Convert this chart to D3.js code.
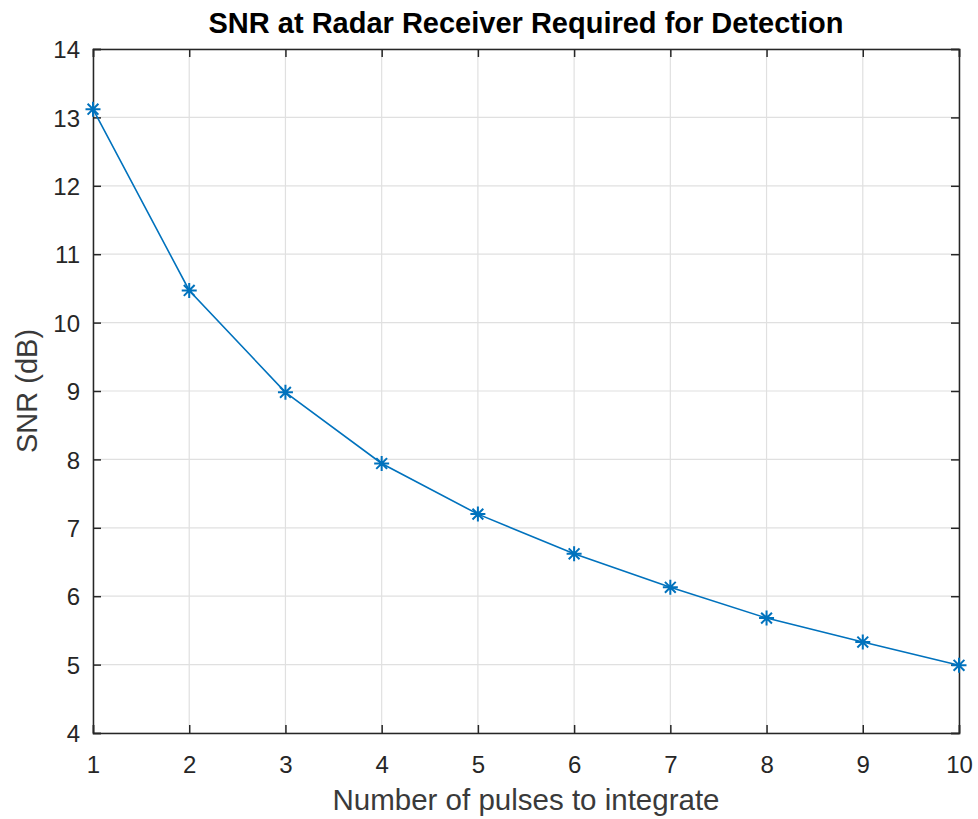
<!DOCTYPE html>
<html>
<head>
<meta charset="utf-8">
<script src="https://cdn.jsdelivr.net/npm/d3@7"></script>
<style>
  html, body { margin: 0; padding: 0; background: #fff; }
  svg { display: block; }
  text { font-family: "Liberation Sans", Arial, Helvetica, sans-serif; fill: #262626; }
</style>
</head>
<body>
<svg id="chart" width="978" height="819"></svg>
<script>
// ---- data ----
const pulses = [1, 2, 3, 4, 5, 6, 7, 8, 9, 10];
const snrDb = [13.12, 10.47, 8.98, 7.94, 7.20, 6.62, 6.13, 5.68, 5.33, 4.99];
const xTicks = [1, 2, 3, 4, 5, 6, 7, 8, 9, 10];
const yTicks = [4, 5, 6, 7, 8, 9, 10, 11, 12, 13, 14];
const titleText = "SNR at Radar Receiver Required for Detection";
const xLabelText = "Number of pulses to integrate";
const yLabelText = "SNR (dB)";

// ---- layout ----
const L = 93, R = 959, T = 49, B = 733;
const svg = d3.select("#chart");

const x = d3.scaleLinear().domain([1, 10]).range([L, R]);
const y = d3.scaleLinear().domain([4, 14]).range([B, T]);

// grid
const grid = svg.append("g");
grid.selectAll("line.gx").data(xTicks).join("line")
  .attr("x1", d => x(d)).attr("x2", d => x(d))
  .attr("y1", T).attr("y2", B)
  .attr("stroke", "#e0e0e0").attr("stroke-width", 1.2);
grid.selectAll("line.gy").data(yTicks).join("line")
  .attr("y1", d => y(d)).attr("y2", d => y(d))
  .attr("x1", L).attr("x2", R)
  .attr("stroke", "#e0e0e0").attr("stroke-width", 1.2);

// axes (MATLAB style: inward ticks on all sides)
const tickLen = 8;
const axCol = "#262626";
const xAxisB = d3.axisBottom(x).tickValues(xTicks).tickSize(-tickLen).tickPadding(23).tickFormat(d3.format("d"));
const xAxisT = d3.axisTop(x).tickValues(xTicks).tickSize(-tickLen).tickFormat("");
const yAxisL = d3.axisLeft(y).tickValues(yTicks).tickSize(-tickLen).tickPadding(13).tickFormat(d3.format("d"));
const yAxisR = d3.axisRight(y).tickValues(yTicks).tickSize(-tickLen).tickFormat("");

function styleAxis(g) {
  g.select(".domain").attr("stroke", axCol).attr("stroke-width", 1.5);
  g.selectAll(".tick line").attr("stroke", axCol).attr("stroke-width", 1.5);
  g.selectAll(".tick text").attr("fill", "#3a3a3a")
    .style("font-family", '"Liberation Sans", Arial, sans-serif').style("font-size", "24px");
}
svg.append("g").attr("transform", `translate(0,${B})`).call(xAxisB).call(styleAxis)
  .selectAll(".tick text").attr("dy", "0.71em");
svg.append("g").attr("transform", `translate(0,${T})`).call(xAxisT).call(styleAxis);
svg.append("g").attr("transform", `translate(${L},0)`).call(yAxisL).call(styleAxis)
  .selectAll(".tick text").attr("dy", "0.36em");
svg.append("g").attr("transform", `translate(${R},0)`).call(yAxisR).call(styleAxis);

// line
const lineGen = d3.line().x((d, i) => x(pulses[i])).y(d => y(d));
svg.append("path").datum(snrDb)
  .attr("d", lineGen)
  .attr("fill", "none").attr("stroke", "#0072BD").attr("stroke-width", 1.6);

// asterisk markers
const s = 7.5, s2 = s * 0.72;
const star = `M${-s},0L${s},0M0,${-s}L0,${s}M${-s2},${-s2}L${s2},${s2}M${-s2},${s2}L${s2},${-s2}`;
svg.append("g").selectAll("path").data(snrDb).join("path")
  .attr("transform", (d, i) => `translate(${x(pulses[i])},${y(d)})`)
  .attr("d", star)
  .attr("fill", "none").attr("stroke", "#0072BD").attr("stroke-width", 2);

// title & labels
svg.append("text").attr("x", (L + R) / 2).attr("y", 33)
  .attr("text-anchor", "middle").style("font-size", "29px").style("font-weight", "bold")
  .style("fill", "#000")
  .text(titleText);
svg.append("text").attr("x", (L + R) / 2).attr("y", 810)
  .attr("text-anchor", "middle").style("font-size", "29.5px").style("fill", "#3a3a3a")
  .text(xLabelText);
svg.append("text")
  .attr("transform", `translate(37,${(T + B) / 2}) rotate(-90)`)
  .attr("text-anchor", "middle").style("font-size", "29px").style("fill", "#3a3a3a")
  .text(yLabelText);
</script>
</body>
</html>
